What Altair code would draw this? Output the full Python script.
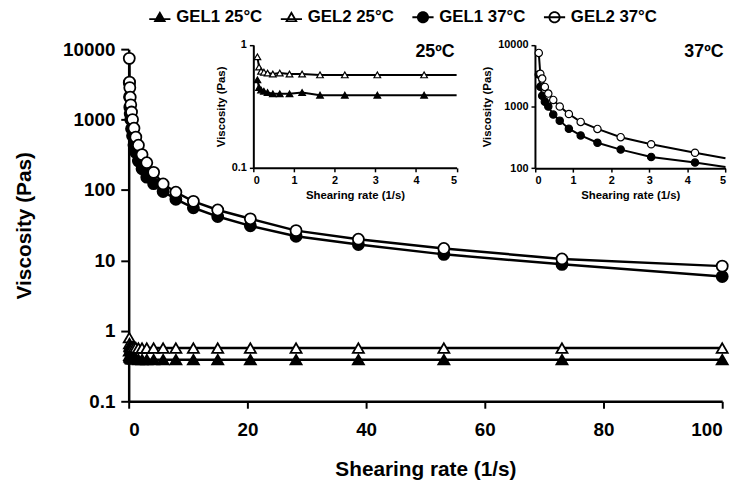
import altair as alt
import pandas as pd

# ---------------- data ----------------
shear_rate = [0.1, 0.14, 0.19, 0.26, 0.35, 0.48, 0.65, 0.89, 1.2, 1.64, 2.25, 3.05,
              4.2, 5.8, 7.95, 10.9, 15.0, 20.5, 28.2, 38.7, 53.1, 73.0, 100.0]
gel1_25 = [0.52, 0.45, 0.43, 0.42, 0.41, 0.40, 0.40, 0.40, 0.41, 0.39, 0.39, 0.39,
           0.39, 0.39, 0.39, 0.39, 0.39, 0.39, 0.39, 0.39, 0.39, 0.39, 0.39]
gel2_25 = [0.80, 0.66, 0.61, 0.60, 0.59, 0.58, 0.59, 0.58, 0.58, 0.57, 0.57, 0.57,
           0.57, 0.57, 0.57, 0.57, 0.57, 0.57, 0.57, 0.57, 0.57, 0.57, 0.57]
gel1_37 = [3300, 2100, 1500, 1200, 1000, 740, 590, 437, 340, 258, 200, 152,
           123, 95, 74, 56, 42, 31, 22, 16.8, 12.2, 8.8, 5.9]
gel2_37 = [7400, 3400, 2840, 2080, 1620, 1280, 1000, 755, 563, 433, 318, 244,
           178, 122, 93, 69, 52, 39, 26.5, 20, 14.8, 10.5, 8.3]
series_names = ["GEL1 25°C", "GEL2 25°C", "GEL1 37°C", "GEL2 37°C"]
series_temp = [25, 25, 37, 37]
# values where the inset curves meet the right edge (x = 5)
inset_edge_rate = 5.0
inset_edge_visc = [0.39, 0.57, 104, 145]
inset_labels = ["25ºC", "37ºC"]
inset_label_visc = [0.87, 7600]

# ---------------- tables ----------------
rows = []
for name, t, vals in zip(series_names, series_temp, [gel1_25, gel2_25, gel1_37, gel2_37]):
    for r, v in zip(shear_rate, vals):
        rows.append({"rate": r, "visc": v, "series": name, "temp": t, "marker": True})
df = pd.DataFrame(rows)
edge = pd.DataFrame({"rate": [inset_edge_rate] * 4, "visc": inset_edge_visc,
                     "series": series_names, "temp": series_temp, "marker": [False] * 4})
inset_all = pd.concat([df[df["rate"] <= 5], edge], ignore_index=True)
in25 = inset_all[inset_all["temp"] == 25]
in37 = inset_all[inset_all["temp"] == 37]
lab25 = pd.DataFrame({"rate": [5.0], "visc": [inset_label_visc[0]], "label": [inset_labels[0]]})
lab37 = pd.DataFrame({"rate": [5.0], "visc": [inset_label_visc[1]], "label": [inset_labels[1]]})

FONT = "Liberation Sans"
W, H = 600, 356

shape_scale = alt.Scale(domain=series_names, range=["triangle-up", "triangle-up", "circle", "circle"])
fill_scale = alt.Scale(domain=series_names, range=["black", "white", "black", "white"])

# ---------------- main plot ----------------
mx = alt.X("rate:Q", scale=alt.Scale(domain=[0, 100], nice=False),
           axis=alt.Axis(orient="bottom", values=[0, 20, 40, 60, 80, 100], title="Shearing rate (1/s)",
                         labelFontSize=19, titleFontSize=21, tickSize=7, tickWidth=2, domainWidth=2.5,
                         labelPadding=13, titlePadding=19))
my = alt.Y("visc:Q", scale=alt.Scale(type="log", domain=[0.1, 10000], nice=False),
           axis=alt.Axis(orient="left", values=[0.1, 1, 10, 100, 1000, 10000], format="~g",
                         title="Viscosity (Pas)", labelFontSize=19, titleFontSize=21, tickSize=8,
                         tickWidth=2, domainWidth=2.5, labelPadding=6, titlePadding=28))
main_line = alt.Chart(df).mark_line(color="black", strokeWidth=2.5).encode(
    x=mx, y=my, detail="series:N", order="rate:Q")
main_pts = alt.Chart(df).mark_point(filled=True, stroke="black", strokeWidth=1.8, size=125, opacity=1).encode(
    x=mx, y=my,
    shape=alt.Shape("series:N", scale=shape_scale, legend=None),
    fill=alt.Fill("series:N", scale=fill_scale, legend=None))
main = alt.layer(main_line, main_pts)

# ---------------- insets ----------------
def inset(data, labdf, xrange, yrange, ydomain, yvalues, xoff, yoff, msize):
    ax = alt.Axis(orient="bottom", offset=yoff, values=[0, 1, 2, 3, 4, 5], title="Shearing rate (1/s)",
                  labelFontSize=11, titleFontSize=11.5, tickSize=4, tickWidth=1.5, domainWidth=2,
                  labelPadding=3, titlePadding=4)
    ay = alt.Axis(orient="left", offset=xoff, values=yvalues, format="~g", title="Viscosity (Pas)",
                  labelFontSize=11, titleFontSize=11.5, tickSize=4, tickWidth=1.5, domainWidth=2,
                  labelPadding=3, titlePadding=5)
    x = alt.X("rate:Q", scale=alt.Scale(domain=[0, 5], nice=False, range=xrange), axis=ax)
    y = alt.Y("visc:Q", scale=alt.Scale(type="log", domain=ydomain, nice=False, range=yrange), axis=ay)
    ln = alt.Chart(data).mark_line(color="black", strokeWidth=2).encode(
        x=x, y=y, detail="series:N", order="rate:Q")
    pts = alt.Chart(data).transform_filter("datum.marker").mark_point(
        filled=True, stroke="black", strokeWidth=1.2, size=msize, opacity=1).encode(
        x=x, y=y,
        shape=alt.Shape("series:N", scale=shape_scale, legend=None),
        fill=alt.Fill("series:N", scale=fill_scale, legend=None))
    txt = alt.Chart(labdf).mark_text(font=FONT, fontWeight="bold", fontSize=18, align="right",
                                     baseline="middle", color="black", dx=-2).encode(
        x=x, y=y, text="label:N")
    return alt.layer(ln, pts, txt)

inset25 = inset(in25, lab25, [126, 331.5], [120, -4.3], [0.1, 1], [0.1, 1], -126, -236, 45)
inset37 = inset(in37, lab37, [410.7, 603.3], [120.3, -4.3], [100, 10000], [100, 1000, 10000], -410.7, -235.7, 55)

# ---------------- legend (filled outline paths with a line through) ----------------
rect_tri = "M-1.75,0.17H1.75V0.47H-1.75Z"
rect_circ = "M-1.75,-0.15H1.75V0.15H-1.75Z"
tri_full = "M0,-1.05L1.05,0.8L-1.05,0.8Z " + rect_tri
tri_open = "M0,-1.05L1.05,0.8L-1.05,0.8Z M0,-0.42L-0.56,0.52L0.56,0.52Z " + rect_tri
circ_full = "M-1,0A1,1,0,1,1,1,0A1,1,0,1,1,-1,0Z " + rect_circ
circ_open = ("M-1,0A1,1,0,1,1,1,0A1,1,0,1,1,-1,0Z "
             "M-0.7,0A0.7,0.7,0,1,0,0.7,0A0.7,0.7,0,1,0,-0.7,0Z " + rect_circ)
legend_paths = [tri_full, tri_open, circ_full, circ_open]
leg = alt.Legend(orient="none", legendX=19, legendY=-41, direction="horizontal", columns=4, title=None,
                 labelFont=FONT, labelFontWeight="bold", labelFontSize=17, labelColor="black",
                 symbolSize=150, symbolFillColor="black", symbolStrokeWidth=0, symbolOpacity=1,
                 symbolOffset=4, labelOffset=8, columnPadding=16)
legend_df = pd.DataFrame({"series": series_names})
legend_layer = alt.Chart(legend_df).mark_point(filled=True, color="black", opacity=0).encode(
    shape=alt.Shape("series:N", scale=alt.Scale(domain=series_names, range=legend_paths), legend=leg))

chart = alt.layer(main, inset25, inset37, legend_layer).resolve_scale(
    x="independent", y="independent", shape="independent", fill="independent"
).properties(
    width=W, height=H,
    autosize=alt.AutoSizeParams(type="none"),
    padding={"left": 122, "top": 39, "right": 20, "bottom": 80},
).configure_axis(
    labelFont=FONT, titleFont=FONT, labelFontWeight="bold", titleFontWeight="bold",
    labelColor="black", titleColor="black", domainColor="black", tickColor="black", grid=False
).configure_view(stroke=None)

chart.save("out.html", embed_options={"renderer": "svg", "actions": False})
